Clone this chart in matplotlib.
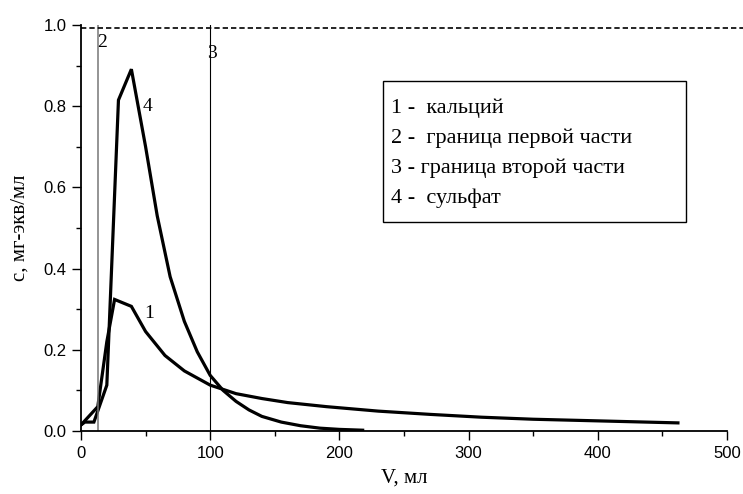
import matplotlib.pyplot as plt
from matplotlib.ticker import MultipleLocator

# curve 1 - calcium
v_ca = [0, 13, 20, 26, 39, 50, 65, 80, 100, 120, 140, 160, 190, 230, 270, 310, 350, 400, 462]
c_ca = [0.015, 0.06, 0.22, 0.324, 0.307, 0.245, 0.186, 0.148, 0.113, 0.092, 0.08, 0.07,
        0.06, 0.049, 0.041, 0.034, 0.029, 0.025, 0.02]

# curve 4 - sulfate
v_so4 = [0, 3, 10, 20, 29, 39, 50, 59, 69, 80, 90, 100, 110, 120, 130, 140, 155, 170, 185, 200, 218]
c_so4 = [0.015, 0.022, 0.022, 0.113, 0.815, 0.891, 0.70, 0.53, 0.38, 0.27, 0.195, 0.137,
         0.10, 0.073, 0.052, 0.036, 0.022, 0.013, 0.007, 0.004, 0.002]

# boundaries of parts (2, 3) and the initial concentration level
v_part1 = 13
v_part2 = 100
c_init = 0.993

legend_lines = ["1 -  кальций", "2 -  граница первой части",
                "3 - граница второй части", "4 -  сульфат"]

serif = "Liberation Serif"
sans = "Liberation Sans"

fig = plt.figure(figsize=(7.43, 4.94), dpi=100)
ax = fig.add_axes([0.109, 0.1275, 0.8695, 0.822])

ax.plot(v_ca, c_ca, color="black", lw=2.3, solid_joinstyle="miter")
ax.plot(v_so4, c_so4, color="black", lw=2.3, solid_joinstyle="miter")

ax.plot([v_part1, v_part1], [0, 1.0], color="#777777", lw=1.1)
ax.plot([v_part2, v_part2], [0, 1.0], color="black", lw=0.8)
ax.plot([0, 513], [c_init, c_init], color="black", lw=1.2,
        ls=(0, (3.2, 1.8)), clip_on=False)

ax.text(51.8, 0.80, "4", fontsize=14, family=serif, ha="center", va="center")
ax.text(53, 0.29, "1", fontsize=14, family=serif, ha="center", va="center")
ax.text(16.6, 0.958, "2", fontsize=14, family=serif, ha="center", va="center")
ax.text(101, 0.93, "3", fontsize=14, family=serif, ha="center", va="center")

# legend box
ax.add_patch(plt.Rectangle((0.467, 0.515), 0.4695, 0.346, transform=ax.transAxes,
                           fill=False, ec="black", lw=1.0, clip_on=False))
for i, line in enumerate(legend_lines):
    ax.text(0.480, 0.794 - i * 0.0735, line, transform=ax.transAxes,
            fontsize=16, family=serif, va="center")

ax.set_xlim(0, 500)
ax.set_ylim(0, 1.0)
ax.xaxis.set_major_locator(MultipleLocator(100))
ax.xaxis.set_minor_locator(MultipleLocator(50))
ax.yaxis.set_major_locator(MultipleLocator(0.2))
ax.yaxis.set_minor_locator(MultipleLocator(0.1))
ax.tick_params(which="major", length=6.5, width=1, direction="out", labelsize=12, pad=4)
ax.tick_params(which="minor", length=3.3, width=1, direction="out")
for lab in ax.get_xticklabels() + ax.get_yticklabels():
    lab.set_family(sans)
ax.yaxis.set_major_formatter(lambda y, pos: f"{y:.1f}")

for s in ["top", "right"]:
    ax.spines[s].set_visible(False)
for s in ["left", "bottom"]:
    ax.spines[s].set_linewidth(1.3)

ax.set_xlabel("V, мл", fontsize=15, family=serif, labelpad=6)
ax.set_ylabel("c, мг-экв/мл", fontsize=15, family=serif, labelpad=10)

fig.savefig("out.png", dpi=100)
